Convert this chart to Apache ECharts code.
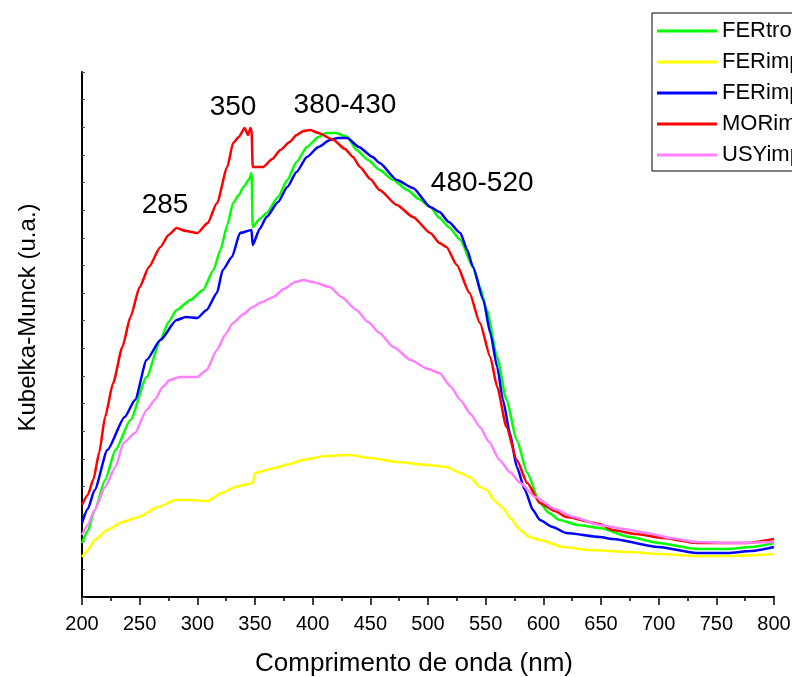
<!DOCTYPE html>
<html>
<head>
<meta charset="utf-8">
<script src="https://cdn.jsdelivr.net/npm/echarts@6/dist/echarts.min.js"></script>
<style>
  html, body { margin: 0; padding: 0; background: #fff; }
  #main { width: 792px; height: 677px; }
</style>
</head>
<body>
<div id="main"></div>
<script>
// comprimento de onda (nm) / Kubelka-Munck (u.a.)
var ferTroca = [[200,54],[205,66],[211,87],[220,117],[229,147],[242,177],[256,220],[268,257],[275,275],[282,287],[294,297],[305,307],[314,327],[320,347],[326,372],[331,394],[336,402],[340,410],[345,418],[347,424],[348,370],[354,378],[360,384],[370,400],[378,417],[386,435],[395,450],[405,460],[412,464],[420,464],[430,460],[438,447],[448,437],[458,427],[470,417],[482,407],[492,398],[502,390],[510,379],[518,370],[528,357],[539,330],[545,310],[551,287],[560,240],[568,197],[577,157],[586,124],[597,94],[605,84],[614,77],[630,72],[649,69],[675,60],[700,54],[733,48],[760,48],[780,50],[800,54]];
var ferImp1 = [[200,40],[205,47],[211,57],[222,67],[235,75],[249,80],[266,90],[281,97],[295,97],[309,96],[321,104],[333,110],[340,112],[348,114],[350,124],[367,129],[380,133],[391,137],[411,141],[432,142],[450,139],[473,135],[500,132],[516,130],[528,124],[536,120],[545,110],[551,107],[558,96],[565,89],[572,78],[580,67],[588,60],[597,57],[617,50],[640,47],[675,45],[700,43],[733,41],[760,41],[800,43]];
var ferImp2 = [[200,74],[205,88],[211,107],[222,147],[237,180],[246,197],[256,237],[268,257],[282,277],[290,280],[300,279],[308,287],[317,304],[322,327],[330,340],[337,364],[347,367],[348,352],[354,368],[360,380],[370,395],[378,410],[386,425],[395,440],[405,450],[415,457],[422,459],[430,459],[440,450],[452,440],[458,434],[473,417],[487,409],[502,390],[510,385],[518,375],[528,364],[534,347],[539,330],[548,297],[554,264],[560,230],[565,197],[571,164],[577,130],[584,107],[591,87],[597,77],[608,70],[620,64],[649,60],[660,58],[700,50],[733,44],[760,44],[780,46],[800,50]];
var morImp = [[200,92],[205,102],[210,118],[215,145],[220,180],[227,214],[235,250],[242,280],[250,310],[258,330],[268,350],[275,362],[282,369],[290,366],[300,364],[309,374],[317,394],[326,430],[331,454],[336,460],[341,469],[344,462],[346,469],[347,467],[348,430],[357,430],[365,438],[372,447],[380,455],[386,462],[392,466],[398,467],[405,464],[418,457],[428,448],[435,440],[441,430],[450,418],[458,407],[473,392],[487,380],[502,364],[510,354],[516,350],[525,332],[536,304],[545,274],[554,240],[560,210],[568,170],[577,137],[586,114],[597,94],[610,86],[620,80],[649,73],[660,67],[680,63],[704,59],[733,54],[760,54],[776,54],[800,58]];
var usyImp = [[200,62],[205,72],[211,87],[220,110],[229,130],[236,154],[246,164],[256,187],[263,197],[270,210],[276,217],[285,220],[300,220],[308,227],[317,247],[324,262],[331,274],[340,283],[348,290],[356,295],[366,300],[375,308],[385,315],[392,317],[400,315],[415,310],[425,300],[438,287],[448,275],[458,264],[470,250],[485,237],[500,228],[510,224],[520,210],[528,197],[537,183],[545,170],[553,155],[562,137],[571,125],[580,114],[593,100],[610,88],[626,80],[649,72],[670,68],[690,64],[710,59],[733,55],[760,54],[800,55]];

var seriesNames = ['FERtrocada', 'FERimpregnada 1', 'FERimpregnada 2', 'MORimpregnada', 'USYimpregnada'];
var seriesData = [ferTroca, ferImp1, ferImp2, morImp, usyImp];
var seriesColors = ['#00ff00', '#ffff00', '#0000ff', '#ff0000', '#ff80ff'];

// rótulos das bandas: texto, nm, valor
var bandas = [['285', 272, 392], ['350', 331, 490], ['380-430', 428, 492], ['480-520', 547, 414]];

var font = 'Liberation Sans, Arial, sans-serif';
var myChart = echarts.init(document.getElementById('main'));

var series = [];
for (var i = 0; i < seriesNames.length; i++) {
    series.push({
        name: seriesNames[i],
        type: 'line',
        data: seriesData[i],
        showSymbol: false,
        smooth: 0.2,
        smoothMonotone: 'x',
        lineStyle: { width: 2.5, color: seriesColors[i], join: 'round' },
        itemStyle: { color: seriesColors[i] },
        silent: true,
        animation: false
    });
}

var option = {
    animation: false,
    grid: { left: 82, right: 18, top: 72, bottom: 80, containLabel: false, outerBoundsMode: 'none' },
    legend: {
        orient: 'vertical',
        left: 652, top: 13,
        padding: [7, 40, 5, 5],
        backgroundColor: '#fff',
        borderColor: '#000', borderWidth: 1,
        icon: 'rect', itemWidth: 60, itemHeight: 3, itemGap: 9,
        textStyle: { fontFamily: font, fontSize: 22, color: '#000', lineHeight: 22 },
        data: seriesNames
    },
    xAxis: {
        type: 'value', min: 200, max: 800, interval: 50,
        name: 'Comprimento de onda (nm)', nameLocation: 'middle', nameGap: 54,
        nameTextStyle: { fontFamily: font, fontSize: 26, color: '#000', padding: [0, 28, 0, 0] },
        axisLine: { onZero: false, lineStyle: { color: '#000', width: 2 } },
        axisTick: { inside: false, length: 8, lineStyle: { color: '#000', width: 1.5 } },
        minorTick: { show: true, splitNumber: 2, length: 4, lineStyle: { color: '#000', width: 1.5 } },
        axisLabel: { fontFamily: font, fontSize: 20, color: '#000', margin: 17 },
        splitLine: { show: false }
    },
    yAxis: {
        type: 'value', min: 0, max: 525, interval: 525 / 19,
        name: 'Kubelka-Munck (u.a.)', nameLocation: 'middle', nameGap: 42, nameRotate: 90,
        nameTextStyle: { fontFamily: font, fontSize: 24, color: '#000', padding: [0, 0, 0, 34] },
        axisLine: { show: true, lineStyle: { color: '#000', width: 2 } },
        axisTick: { show: true, inside: true, length: 3, lineStyle: { color: '#555', width: 1 } },
        axisLabel: { show: false },
        splitLine: { show: false }
    },
    series: series
};
myChart.setOption(option);

var textos = [];
for (var j = 0; j < bandas.length; j++) {
    var p = myChart.convertToPixel({ gridIndex: 0 }, [bandas[j][1], bandas[j][2]]);
    textos.push({
        type: 'text', x: p[0], y: p[1], z: 100,
        style: { text: bandas[j][0], fill: '#000', font: '28px ' + font, textAlign: 'center', textVerticalAlign: 'middle' }
    });
}
myChart.setOption({ graphic: textos });
</script>
</body>
</html>
